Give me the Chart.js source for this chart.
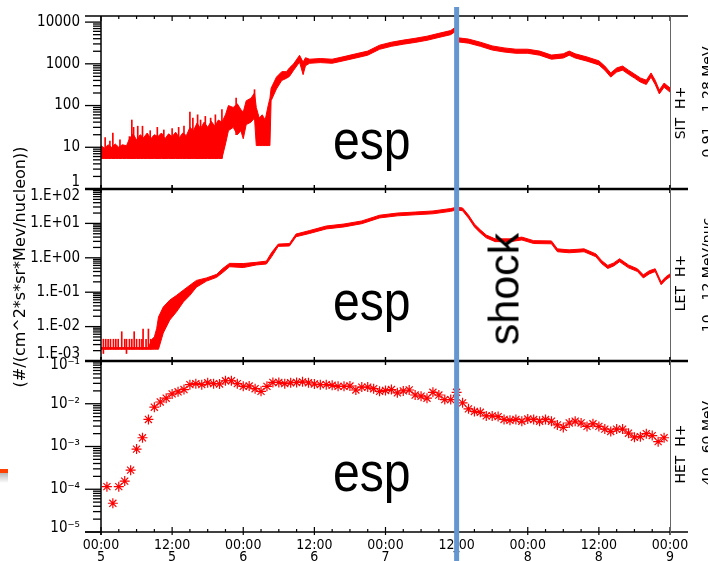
<!DOCTYPE html>
<html>
<head>
<meta charset="utf-8">
<title>SIT / LET / HET H+ flux</title>
<script src="https://cdn.jsdelivr.net/npm/chart.js"></script>
<style>
  html, body { margin: 0; padding: 0; background: #fff; }
  #wrap { position: relative; width: 708px; height: 561px; overflow: hidden; }
  #wrap canvas { position: absolute; left: 0; top: 0; }
  .lbl { position: absolute; white-space: nowrap; color: #000; line-height: 1; font-family: 'DejaVu Sans', sans-serif; }
  .rot { transform: translate(-50%, -50%) rotate(-90deg); }
  .esp { font-family: 'Liberation Sans', Arial, sans-serif; font-size: 56px; transform-origin: left top; transform: scaleX(0.86); }
</style>
</head>
<body>
<div id="wrap">
  <canvas id="sitChart" width="708" height="561"></canvas>
  <canvas id="letChart" width="708" height="561"></canvas>
  <canvas id="hetChart" width="708" height="561"></canvas>

  <div class="lbl rot" style="left:20px;top:267px;font-size:16px;">(#/(cm^2*s*sr*Mev/nucleon))</div>

  <div class="lbl rot" style="left:680px;top:113px;font-size:14px;">SIT&nbsp;&nbsp;H+</div>
  <div class="lbl rot" style="left:707px;top:102px;font-size:14px;">0.91—1.28 MeV</div>
  <div class="lbl rot" style="left:680px;top:283px;font-size:14px;">LET&nbsp;&nbsp;H+</div>
  <div class="lbl rot" style="left:707px;top:275px;font-size:14px;">10—12 MeV/nuc</div>
  <div class="lbl rot" style="left:680px;top:454px;font-size:14px;">HET&nbsp;&nbsp;H+</div>
  <div class="lbl rot" style="left:707px;top:443px;font-size:14px;">40—60 MeV</div>

  <div class="lbl esp" style="left:333px;top:112px;">esp</div>
  <div class="lbl esp" style="left:333px;top:273px;">esp</div>
  <div class="lbl esp" style="left:333px;top:444px;">esp</div>
  <div class="lbl rot" style="left:504px;top:289px;font-size:43px;font-family:'Liberation Sans', Arial, sans-serif;">shock</div>

  <div style="position:absolute;left:0;top:469px;width:8px;height:4px;background:#ff4000;"></div>
  <div style="position:absolute;left:0;top:473px;width:8px;height:10px;background:linear-gradient(#b8b8b8,#fff);"></div>
</div>

<script>
// hours since 00:00 of day 5
const sitHours = [
  0, 0.6, 1.2, 1.8, 2.4, 3.0, 3.6, 4.3, 4.8, 5.4,
  6.0, 6.6, 7.2, 7.8, 8.4, 9.0, 9.6, 10.2, 10.8, 11.4,
  12.0, 12.6, 13.2, 13.8, 14.4, 15.0, 15.6, 16.2, 16.8, 17.4,
  18.0, 18.6, 19.2, 19.8, 20.4, 21,
  21.5, 22.3, 23, 23.6, 24, 24.5, 25.3, 25.9, 26.2, 26.7,
  27.2, 27.7, 28.2, 28.5, 28.7, 29.6, 30.5, 31.3, 31.8, 32.5,
  33.5, 34.1, 34.5, 35.2, 37, 39, 41, 43, 45, 47,
  49, 51, 53, 55, 57, 59, 59.8, 60.3, 62, 64,
  66, 68, 70, 72, 74, 76, 78, 79, 80, 82,
  84, 85, 86, 87, 88, 89, 90, 91, 92, 92.8,
  93.5, 94.2, 95, 96
];
// lower / upper edge of the noisy SIT trace
const sitLow = [
  5.4, 5.4, 5.4, 5.4, 5.4, 5.4, 5.4, 5.4, 5.4, 5.4,
  5.4, 5.4, 5.4, 5.4, 5.4, 5.4, 5.4, 5.4, 5.4, 5.4,
  5.4, 5.4, 5.4, 5.4, 5.4, 5.4, 5.4, 5.4, 5.4, 5.4,
  5.4, 5.4, 5.4, 5.4, 5.4, 12,
  25, 30, 20, 25, 16, 35, 40, 50, 11, 11,
  11, 11, 11, 11, 130, 250, 400, 450, 500, 700,
  1100, 550, 900, 1030, 1070, 1030, 1190, 1380, 1610, 2230,
  2630, 2950, 3260, 3660, 4290, 5000, 5980, 3350, 3130, 2630,
  2140, 1920, 1790, 1790, 1610, 1290, 1380, 1610, 1380, 1160,
  940, 705, 480, 635, 705, 560, 455, 365, 320, 480,
  320, 190, 275, 210
];
const sitHigh = [
  10.9, 9.5, 11.5, 10, 12, 10, 11.5, 10.9, 16, 21,
  15, 20, 17, 22, 16, 20, 18, 22, 16, 21,
  18, 23, 17, 22, 19, 30, 25, 38, 28, 40,
  30, 42, 32, 45, 40, 60,
  100, 90, 110, 80, 70, 130, 150, 200, 90, 50,
  60, 45, 100, 150, 260, 480, 650, 650, 800, 1000,
  1600, 1100, 1400, 1290, 1340, 1290, 1490, 1740, 2020, 2800,
  3300, 3700, 4090, 4590, 5380, 6270, 7500, 4200, 3920, 3300,
  2690, 2410, 2240, 2240, 2020, 1620, 1740, 2020, 1740, 1460,
  1180, 885, 605, 795, 885, 705, 570, 460, 405, 605,
  405, 235, 345, 265
];
// isolated spikes above the dense SIT background
const sitSpikeHours = [0.7, 1.5, 2.0, 3.2, 4.8, 5.2, 5.5, 6.2, 7.0, 8.3,
                       9.5, 10.6, 12.0, 13.1, 14.0, 15.0, 15.5, 16.3, 16.8, 17.6,
                       18.5, 19.3, 20.4, 22.8, 25.9];
const sitSpikeLow = [5.4, 5.4, 5.4, 5.4, 5.4, 5.4, 5.4, 5.4, 5.4, 5.4,
                     5.4, 5.4, 5.4, 5.4, 5.4, 5.4, 5.4, 5.4, 5.4, 5.4,
                     5.4, 5.4, 5.4, 20, 50];
const sitSpikeTop = [17, 14, 22, 15, 18, 45, 30, 32, 32, 25,
                     30, 26, 28, 30, 32, 70, 50, 60, 45, 55,
                     50, 60, 80, 150, 240];

const letHours = [
  0, 2, 4, 6, 8, 8.6, 9, 9.4, 9.7,
  10.5, 11.6, 12.75, 13.9, 15, 16.1, 17.8, 19.5, 20.6, 21.7,
  24, 26.2, 27.9, 28.75, 29.9, 31.8, 32.9, 35.2, 38, 41,
  44, 47, 50, 53, 56, 59, 60, 61, 62, 63,
  64, 65, 66.5, 69, 71, 73, 76, 77, 79, 81.5,
  83.5, 84.5, 85.5, 86.5, 87.5, 89, 90.5, 91.5, 92.5, 93.5,
  94.5, 95.3, 96
];
const letLow = [
  2.2e-3, 2.2e-3, 2.2e-3, 2.2e-3, 2.2e-3, 2.2e-3, 2.2e-3, 2.2e-3, 2.2e-3,
  6.5e-3, 1.55e-2, 2.7e-2, 5.2e-2, 8.1e-2, 0.14, 0.21, 0.27, 0.38, 0.55,
  0.52, 0.62, 0.66, 1.05, 2.15, 2.2, 4.1, 5.1, 6.9, 7.9,
  9.8, 14.4, 16.6, 17.8, 19, 22.4, 24.5, 23.4, 14.3, 7.9,
  5.3, 3.8, 2.95, 2.95, 3.3, 2.6, 2.55, 1.5, 1.4, 1.5,
  1.07, 0.67, 0.49, 0.58, 0.77, 0.51, 0.40, 0.26, 0.34, 0.40,
  0.165, 0.23, 0.28
];
const letHigh = [
  2.45e-3, 2.45e-3, 2.45e-3, 2.45e-3, 2.45e-3, 4.3e-3, 5.0e-3, 8.9e-3, 1.9e-2,
  3.7e-2, 5.9e-2, 8.1e-2, 0.115, 0.16, 0.22, 0.26, 0.33, 0.5, 0.69,
  0.68, 0.74, 0.8, 1.4, 2.5, 2.6, 4.9, 6.2, 8.4, 9.6,
  11.8, 17.3, 20, 21.4, 23, 27, 29.5, 28.2, 17.5, 9.6,
  6.5, 4.6, 3.55, 3.55, 4.0, 3.15, 3.1, 1.82, 1.7, 1.82,
  1.3, 0.82, 0.6, 0.71, 0.94, 0.62, 0.48, 0.32, 0.42, 0.48,
  0.2, 0.28, 0.34
];
// single-sample spikes in the quiet LET background
const letSpikeHours = [0.4, 0.8, 1.2, 1.6, 2.1, 2.5, 2.9, 3.5, 4.0, 4.3, 4.8, 5.2, 5.6, 6.0, 6.5, 6.9, 7.1, 7.6, 8.0, 8.4];
const letSpikeLow = [1.65e-3, 2.2e-3, 2.2e-3, 2.2e-3, 2.2e-3, 2.2e-3, 2.2e-3, 2.2e-3, 2.2e-3, 1.65e-3,
                     2.2e-3, 2.2e-3, 2.2e-3, 2.2e-3, 2.2e-3, 2.2e-3, 2.2e-3, 2.2e-3, 2.2e-3, 2.2e-3];
const letSpikeTop = [4.3e-3, 4.3e-3, 4.3e-3, 4.3e-3, 4.3e-3, 4.3e-3, 4.3e-3, 7.1e-3, 4.3e-3, 4.3e-3,
                     4.3e-3, 4.3e-3, 7.1e-3, 4.3e-3, 4.3e-3, 4.3e-3, 8.5e-3, 4.3e-3, 8.5e-3, 4.3e-3];

const hetHours = [
  1, 2, 3, 4, 5, 6, 7, 8, 9, 10,
  11, 12, 13, 14, 15, 16, 17, 18, 19, 20,
  21, 22, 23, 24, 25, 26, 27, 28, 29, 30,
  31, 32, 33, 34, 35, 36, 37, 38, 39, 40,
  41, 42, 43, 44, 45, 46, 47, 48, 49, 50,
  51, 52, 53, 54, 55, 56, 57, 58, 59, 60,
  61, 62, 63, 64, 65, 66, 67, 68, 69, 70,
  71, 72, 73, 74, 75, 76, 77, 78, 79, 80,
  81, 82, 83, 84, 85, 86, 87, 88, 89, 90,
  91, 92, 93, 94, 95
];
const hetFlux = [
  1.15e-4, 4.7e-5, 1.15e-4, 1.55e-4, 2.8e-4, 8.7e-4, 1.6e-3, 4.3e-3, 8.3e-3, 1.1e-2,
  1.35e-2, 1.7e-2, 1.9e-2, 2.15e-2, 2.8e-2, 2.95e-2, 2.8e-2, 3.1e-2, 2.95e-2, 2.9e-2,
  3.45e-2, 3.45e-2, 2.95e-2, 2.55e-2, 2.6e-2, 2.25e-2, 1.95e-2, 2.55e-2, 3.15e-2, 3.15e-2,
  2.95e-2, 3.1e-2, 3.15e-2, 3.25e-2, 3.1e-2, 2.9e-2, 2.8e-2, 2.8e-2, 2.7e-2, 2.55e-2,
  2.55e-2, 2.6e-2, 2.1e-2, 2.45e-2, 2.45e-2, 2.25e-2, 1.95e-2, 2.05e-2, 2.15e-2, 1.8e-2,
  2.0e-2, 2.1e-2, 1.6e-2, 1.5e-2, 1.35e-2, 1.85e-2, 1.6e-2, 1.25e-2, 1.25e-2, 1.85e-2,
  1.05e-2, 7.6e-3, 6.6e-3, 6.3e-3, 5.2e-3, 5.2e-3, 5.0e-3, 4.3e-3, 4.1e-3, 4.3e-3,
  3.9e-3, 4.4e-3, 4.3e-3, 3.9e-3, 4.3e-3, 3.9e-3, 3.2e-3, 2.8e-3, 3.55e-3, 3.9e-3,
  3.55e-3, 2.95e-3, 3.4e-3, 2.95e-3, 2.55e-3, 2.25e-3, 2.55e-3, 2.55e-3, 2.05e-3, 1.65e-3,
  1.7e-3, 2.0e-3, 1.8e-3, 1.3e-3, 1.6e-3
];

const shockHour = 60;

const xTickHours = [0, 12, 24, 36, 48, 60, 72, 84, 96];
const xTickTimes = ['00:00', '12:00', '00:00', '12:00', '00:00', '12:00', '00:00', '12:00', '00:00'];
const xTickDays = ['5', '5', '6', '6', '7', '7', '8', '8', '9'];

const sitTicks = [1, 10, 100, 1000, 10000];
const sitTickLabels = ['1', '10', '100', '1000', '10000'];
const letTicks = [1e-3, 1e-2, 1e-1, 1, 10, 100];
const letTickLabels = ['1.E-03', '1.E-02', '1.E-01', '1.E+00', '1.E+01', '1.E+02'];
const hetTicks = [1e-5, 1e-4, 1e-3, 1e-2, 1e-1];
const hetTickLabels = ['10⁻⁵', '10⁻⁴', '10⁻³', '10⁻²', '10⁻¹'];

const PLOT_LEFT = 101;
const narrowFont = "'Liberation Sans Narrow', 'DejaVu Sans Condensed', 'Liberation Sans', sans-serif";
const RED = '#ff0000';

function toPoints(xs, ys) {
  return xs.map((x, i) => ({ x: x, y: ys[i] }));
}

// axis frame, tick marks and the shock marker
const framePlugin = {
  id: 'frame',
  afterDatasetsDraw(chart, args, o) {
    const { ctx, chartArea: a } = chart;
    const xs = chart.scales.x;
    const ys = chart.scales.y;
    ctx.save();

    // log ticks pointing out of the left axis
    ctx.strokeStyle = '#000';
    ctx.lineWidth = 1.3;
    const e0 = Math.floor(Math.log10(ys.min));
    const e1 = Math.ceil(Math.log10(ys.max));
    for (let e = e0; e <= e1; e++) {
      for (let m = 1; m <= 9; m++) {
        const v = m * Math.pow(10, e);
        if (v < ys.min * 0.999 || v > ys.max * 1.001) continue;
        const py = ys.getPixelForValue(v);
        ctx.beginPath();
        ctx.moveTo(a.left - (m === 1 ? 16 : 8), py);
        ctx.lineTo(a.left, py);
        ctx.stroke();
      }
    }

    // time ticks
    ctx.lineWidth = 1.2;
    for (let h = 0; h <= 96; h += 3) {
      const px = xs.getPixelForValue(h);
      const major = h % 12 === 0;
      ctx.beginPath();
      if (o.topMinor) {
        ctx.moveTo(px, a.top); ctx.lineTo(px, a.top + (major ? 5 : 3));
      } else if (major) {
        ctx.moveTo(px, a.top - 4); ctx.lineTo(px, a.top + 4);
      }
      if (o.bottomMinor) {
        ctx.moveTo(px, a.bottom + (major ? 3 : 0)); ctx.lineTo(px, a.bottom - (major ? 5 : 3));
      } else if (major) {
        ctx.moveTo(px, a.bottom - 4); ctx.lineTo(px, a.bottom + 4);
      }
      ctx.stroke();
    }

    // frame lines
    ctx.strokeStyle = '#000';
    if (o.topWidth) {
      ctx.lineWidth = o.topWidth;
      ctx.beginPath(); ctx.moveTo(85, a.top); ctx.lineTo(688, a.top); ctx.stroke();
    }
    ctx.lineWidth = o.bottomWidth;
    ctx.beginPath(); ctx.moveTo(85, a.bottom); ctx.lineTo(688, a.bottom); ctx.stroke();
    ctx.lineWidth = 1.5;
    ctx.beginPath(); ctx.moveTo(a.left, a.top); ctx.lineTo(a.left, a.bottom + (o.bottomMinor ? 3 : 0)); ctx.stroke();
    ctx.strokeStyle = '#666';
    ctx.lineWidth = 1;
    ctx.beginPath(); ctx.moveTo(a.right + 0.5, a.top); ctx.lineTo(a.right + 0.5, a.bottom + (o.bottomMinor ? 3 : 0)); ctx.stroke();

    if (o.shock) {
      const sx = xs.getPixelForValue(shockHour);
      ctx.strokeStyle = '#6497cf';
      ctx.lineWidth = 5;
      ctx.beginPath(); ctx.moveTo(sx, 7); ctx.lineTo(sx, 561); ctx.stroke();
    }
    ctx.restore();
  }
};

function logAxis(min, max, ticks, labels, lineHeight) {
  const last = ticks.length - 1;
  return {
    type: 'logarithmic',
    min: min,
    max: max,
    afterBuildTicks: s => { s.ticks = ticks.map(v => ({ value: v })); },
    afterFit: s => {
      s.width = PLOT_LEFT;
      // labels may hang over the panel edges, they must not shrink the plot
      s.paddingTop = 0;
      s.paddingBottom = 0;
    },
    grid: { display: false, drawTicks: false },
    border: { display: false },
    ticks: {
      autoSkip: false,
      padding: 21,
      color: '#000',
      font: { family: narrowFont, size: 15, lineHeight: lineHeight },
      callback: (v, i) => {
        // labels sitting on a panel edge are pushed into their own panel
        if (i === 0 && ticks[0] === min) return [labels[i], ''];
        if (i === last && ticks[last] === max) return ['', labels[i]];
        return labels[i];
      }
    }
  };
}

function hiddenTimeAxis() {
  return { type: 'linear', min: 0, max: 96, offset: false, display: false };
}

function baseOptions(padding, yAxis, xAxis, frame) {
  return {
    responsive: false,
    animation: false,
    events: [],
    layout: { padding: padding },
    scales: { x: xAxis, y: yAxis },
    elements: { line: { tension: 0 } },
    plugins: {
      legend: { display: false },
      tooltip: { enabled: false },
      frame: frame
    }
  };
}

function bandDatasets(hours, low, high) {
  return [
    { data: toPoints(hours, low), borderColor: RED, borderWidth: 1, pointRadius: 0, fill: false },
    { data: toPoints(hours, high), borderColor: RED, borderWidth: 1, pointRadius: 0, backgroundColor: RED, fill: '-1' }
  ];
}

function spikeDataset(hours, low, top) {
  return {
    type: 'bar',
    data: hours.map((h, i) => ({ x: h, y: [low[i], top[i]] })),
    backgroundColor: RED,
    barThickness: 1,
    grouped: false
  };
}

const sitSets = bandDatasets(sitHours, sitLow, sitHigh);
sitSets.push(spikeDataset(sitSpikeHours, sitSpikeLow, sitSpikeTop));

new Chart(document.getElementById('sitChart'), {
  type: 'line',
  data: { datasets: sitSets },
  options: baseOptions(
    { left: 0, right: 38, top: 16, bottom: 372 },
    logAxis(1, 14000, sitTicks, sitTickLabels, '14px'),
    hiddenTimeAxis(),
    { topMinor: true, topWidth: 1.5, bottomWidth: 2.5 }
  ),
  plugins: [framePlugin]
});

const letSets = bandDatasets(letHours, letLow, letHigh);
letSets.push(spikeDataset(letSpikeHours, letSpikeLow, letSpikeTop));

new Chart(document.getElementById('letChart'), {
  type: 'line',
  data: { datasets: letSets },
  options: baseOptions(
    { left: 0, right: 38, top: 189, bottom: 200 },
    logAxis(1e-3, 1e2, letTicks, letTickLabels, '14px'),
    hiddenTimeAxis(),
    { bottomWidth: 2.5 }
  ),
  plugins: [framePlugin]
});

new Chart(document.getElementById('hetChart'), {
  type: 'line',
  data: {
    datasets: [{
      data: toPoints(hetHours, hetFlux),
      showLine: false,
      pointStyle: 'star',
      pointRadius: 5,
      pointBorderWidth: 1.2,
      borderColor: RED,
      pointBorderColor: RED,
      backgroundColor: RED
    }]
  },
  options: baseOptions(
    { left: 0, right: 38, top: 361, bottom: 0 },
    logAxis(1e-5, 1e-1, hetTicks, hetTickLabels, '8px'),
    {
      type: 'linear',
      min: 0,
      max: 96,
      offset: false,
      afterBuildTicks: s => { s.ticks = xTickHours.map(v => ({ value: v })); },
      afterFit: s => { s.height = 29; },
      grid: { display: false, drawTicks: false },
      border: { display: false },
      ticks: {
        autoSkip: false,
        maxRotation: 0,
        padding: 7,
        color: '#000',
        font: { family: narrowFont, size: 14, lineHeight: '12px' },
        callback: (v, i) => [xTickTimes[i], xTickDays[i]]
      }
    },
    { bottomMinor: true, bottomWidth: 1.5, shock: true }
  ),
  plugins: [framePlugin]
});
</script>
</body>
</html>
